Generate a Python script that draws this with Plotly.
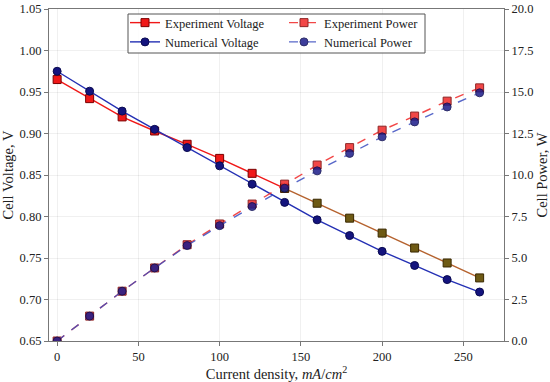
import plotly.graph_objects as go

current = [0, 20, 40, 60, 80, 100, 120, 140, 160, 180, 200, 220, 240, 260]
exp_voltage = [0.965, 0.942, 0.920, 0.903, 0.887, 0.870, 0.852, 0.834, 0.816, 0.798, 0.780, 0.762, 0.744, 0.726]
num_voltage = [0.975, 0.951, 0.927, 0.905, 0.883, 0.861, 0.839, 0.817, 0.796, 0.777, 0.758, 0.741, 0.724, 0.709]
exp_power = [0.0, 1.5, 3.0, 4.4, 5.8, 7.05, 8.25, 9.45, 10.6, 11.65, 12.7, 13.55, 14.45, 15.25]
num_power = [0.0, 1.5, 3.0, 4.4, 5.75, 6.95, 8.1, 9.2, 10.25, 11.3, 12.3, 13.2, 14.1, 14.95]
split = 7  # index where the experimental voltage curve changes tint in the reference

FONT = "Liberation Serif"
W, H = 550, 382
L, R, T, B = 49, 46, 9, 41
pw, ph = W - L - R, H - T - B

def px2x(px):
    return (px - L) / pw

def px2y(py):
    return (H - B - py) / ph

fig = go.Figure()

fig.add_trace(go.Scatter(
    x=current[:split + 1], y=exp_voltage[:split + 1], name="Experiment Voltage",
    mode="lines+markers", line=dict(color="#f01818", width=1.4),
    marker=dict(symbol="square", size=8, color="#f01818", line=dict(color="#7a0000", width=1)),
    legend="legend"))
fig.add_trace(go.Scatter(
    x=current[split:], y=exp_voltage[split:], name="Experiment Voltage",
    mode="lines+markers", line=dict(color="#b5622e", width=1.4),
    marker=dict(symbol="square", size=8, color="#6e5a14", line=dict(color="#3a2800", width=1)),
    showlegend=False))
fig.add_trace(go.Scatter(
    x=current, y=num_voltage, name="Numerical Voltage",
    mode="lines+markers", line=dict(color="#2430b4", width=1.4),
    marker=dict(symbol="circle", size=8, color="#14147e", line=dict(color="#0a0a50", width=1)),
    legend="legend"))
fig.add_trace(go.Scatter(
    x=current, y=exp_power, name="Experiment Power", yaxis="y2",
    mode="lines+markers", line=dict(color="#f02828", width=1.4, dash="dash"),
    marker=dict(symbol="square", size=8, color="#f02828", line=dict(color="#7a0000", width=1)),
    opacity=0.85, legend="legend2"))
fig.add_trace(go.Scatter(
    x=current, y=num_power, name="Numerical Power", yaxis="y2",
    mode="lines+markers", line=dict(color="#3c4ec0", width=1.4, dash="dash"),
    marker=dict(symbol="circle", size=8, color="#1c1c8a", line=dict(color="#0a0a50", width=1)),
    opacity=0.85, legend="legend2"))

axis_common = dict(
    showline=True, linecolor="#777777", linewidth=1.2,
    ticks="outside", ticklen=4, tickcolor="#777777",
    tickfont=dict(family=FONT, size=12.5, color="#222222"),
    showgrid=True, gridcolor="rgba(0,0,0,0.06)", gridwidth=1, zeroline=False,
    automargin=False,
)

fig.update_layout(
    width=W, height=H,
    margin=dict(l=L, r=R, t=T, b=B, autoexpand=False),
    paper_bgcolor="white", plot_bgcolor="white",
    font=dict(family=FONT, size=12, color="#222222"),
    xaxis=dict(range=[-5, 275], tickvals=[0, 50, 100, 150, 200, 250], mirror=True,
               title=dict(text="Current density, <i>mA</i>/<i>cm</i><sup>2</sup>",
                          font=dict(family=FONT, size=14.5), standoff=0),
               **axis_common),
    yaxis=dict(range=[0.65, 1.05], dtick=0.05, tickformat=".2f",
               title=dict(text="Cell Voltage, V", font=dict(family=FONT, size=14.5), standoff=3),
               **axis_common),
    yaxis2=dict(range=[0, 20], dtick=2.5, tickformat=".1f", overlaying="y", side="right",
                title=dict(text="Cell Power, W", font=dict(family=FONT, size=14.5), standoff=4),
                **{**axis_common, "showgrid": False}),
    legend=dict(x=px2x(125), y=px2y(8), xanchor="left", yanchor="top",
                bgcolor="rgba(0,0,0,0)", borderwidth=0, tracegroupgap=0,
                font=dict(family=FONT, size=12.5, color="#222222")),
    legend2=dict(x=px2x(284), y=px2y(8), xanchor="left", yanchor="top",
                 bgcolor="rgba(0,0,0,0)", borderwidth=0, tracegroupgap=0,
                 font=dict(family=FONT, size=12.5, color="#222222")),
    shapes=[dict(type="rect", xref="paper", yref="paper",
                 x0=px2x(128), x1=px2x(425), y0=px2y(53), y1=px2y(14),
                 line=dict(color="#555555", width=1), fillcolor="rgba(255,255,255,0.85)",
                 layer="above")],
)

fig.write_html("out.html", config={"displayModeBar": False},
               post_script="document.body.style.margin='0';document.body.style.padding='0';document.body.style.overflow='hidden';")
